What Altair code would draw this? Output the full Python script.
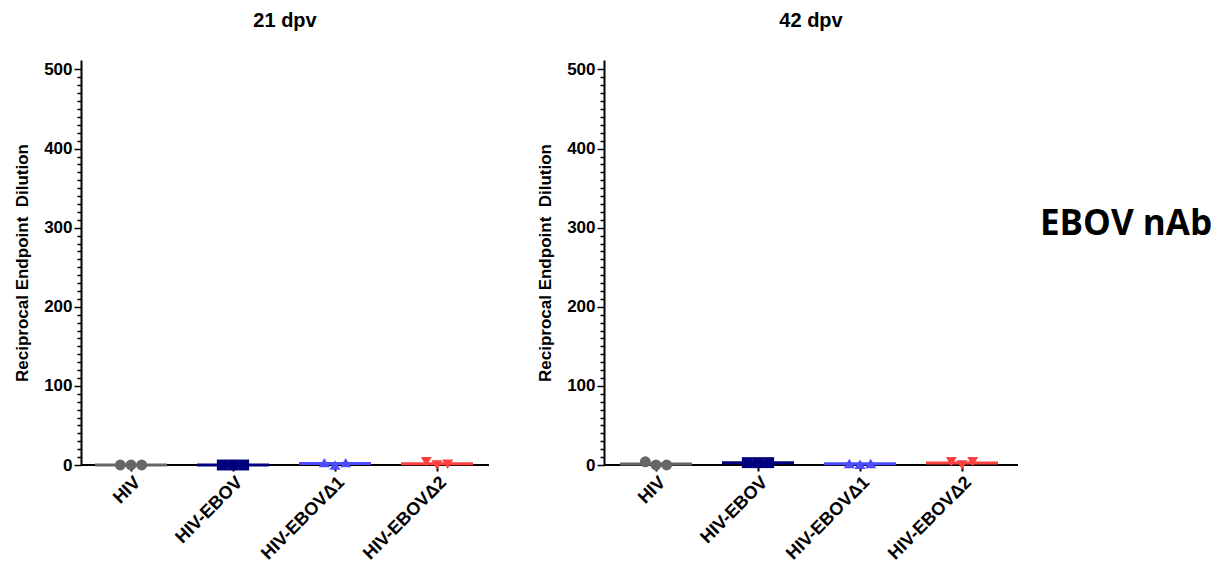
import altair as alt
import pandas as pd

groups = ["HIV", "HIV-EBOV", "HIV-EBOVΔ1", "HIV-EBOVΔ2"]
colors = ["#666666", "#00007f", "#4d4dff", "#ff4040"]
shapes = ["circle", "square", "triangle-up", "triangle-down"]
replicates = ["1", "2", "3"]

# 21 dpv values (3 animals per group)
d21_hiv = [0, 0, 0]
d21_ebov = [0, 0, 0]
d21_delta1 = [3, 0, 3]
d21_delta2 = [4, 0, 1]
# 42 dpv values
d42_hiv = [4, 0, 0]
d42_ebov = [3, 3, 3]
d42_delta1 = [2, 1, 2]
d42_delta2 = [4, 0, 4]

panel_titles = ["21 dpv", "42 dpv"]
y_title = "Reciprocal Endpoint\u00a0 Dilution"
y_ticks = list(range(0, 501, 10))
y_max = 512
side_label = "EBOV nAb"

FONT = "Liberation Sans"
H = 405


def make_df(series):
    rows = []
    for g, vals in zip(groups, series):
        for r, v in zip(replicates, vals):
            rows.append({"group": g, "rep": r, "value": v})
    return pd.DataFrame(rows)


def encodings(x_range):
    x = alt.X(
        "group:N",
        sort=groups,
        scale=alt.Scale(type="point", domain=groups, range=x_range, padding=0),
        axis=alt.Axis(
            title=None, labelAngle=-45, labelFont=FONT, labelFontWeight="bold",
            labelFontSize=18, labelColor="black", tickColor="black", tickWidth=2,
            tickSize=6, domain=False, labelPadding=2, labelAlign="right",
        ),
    )
    y = alt.Y(
        "value:Q",
        scale=alt.Scale(domain=[0, y_max], nice=False, zero=True),
        axis=alt.Axis(
            title=y_title, titleFont=FONT, titleFontSize=17, titleFontWeight="bold",
            titleColor="black", titlePadding=12,
            values=y_ticks, labelOverlap=False,
            labelExpr="datum.value % 100 === 0 ? datum.label : ''",
            labelFont=FONT, labelFontSize=17, labelFontWeight="bold", labelColor="black",
            labelPadding=2,
            tickSize={"condition": {"test": "datum.value % 100 === 0", "value": 7}, "value": 4},
            tickColor="black", tickWidth=1.5,
            domainColor="black", domainWidth=2, grid=False,
        ),
    )
    color = alt.Color("group:N", scale=alt.Scale(domain=groups, range=colors), legend=None)
    return x, y, color


def panel(df, title, width, x_range):
    base = alt.Chart(df)
    x, y, color = encodings(x_range)
    shape = alt.Shape("group:N", scale=alt.Scale(domain=groups, range=shapes), legend=None)

    baseline = base.mark_rule(color="black", strokeWidth=2).encode(
        x=alt.value(0), x2=alt.value(width), y=alt.value(H)
    )
    mean_tick = base.transform_aggregate(
        value="mean(value)", groupby=["group"]
    ).mark_tick(size=72, thickness=3, opacity=1).encode(x=x, y=y, color=color)
    pts = base.mark_point(filled=True, size=120, opacity=1).encode(
        x=x,
        xOffset=alt.XOffset("rep:N", scale=alt.Scale(type="point", domain=replicates, range=[-16, 16])),
        y=y,
        color=color,
        shape=shape,
    )
    return alt.layer(baseline, mean_tick, pts).properties(
        width=width, height=H,
        title=alt.TitleParams(title, font=FONT, fontSize=20, fontWeight="bold",
                              color="black", anchor="middle", offset=29),
    )


left = panel(make_df([d21_hiv, d21_ebov, d21_delta1, d21_delta2]), panel_titles[0], 408, [50, 356])
right = panel(make_df([d42_hiv, d42_ebov, d42_delta1, d42_delta2]), panel_titles[1], 414, [52, 358])

side = alt.Chart(pd.DataFrame({"t": [side_label]})).mark_text(
    font="Open Sans", fontSize=35, fontWeight="bold", color="black",
    align="left", baseline="middle",
).encode(text="t:N", x=alt.value(0), y=alt.value(164)).properties(width=40, height=H)

panels = alt.hconcat(left, right, spacing=46)
chart = alt.hconcat(panels, side, spacing=21).properties(
    padding={"left": 5, "top": 3, "right": 0, "bottom": 0}
).configure_view(strokeWidth=0)

chart.save("out.html", embed_options={"renderer": "svg", "actions": False})
